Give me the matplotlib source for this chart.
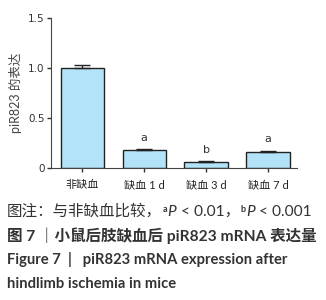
import matplotlib
matplotlib.use("Agg")
import matplotlib.pyplot as plt
import numpy as np

plt.rcParams['font.family'] = ['Lato', 'Noto Sans CJK SC', 'DejaVu Sans']

groups = ['非缺血', '缺血 1 d', '缺血 3 d', '缺血 7 d']
means = [1.0, 0.18, 0.065, 0.165]
errs = [0.03, 0.012, 0.006, 0.01]
marks = ['', 'a', 'b', 'a']
yticks = [0, 0.5, 1.0, 1.5]
ytick_labels = ['0', '0.5', '1.0', '1.5']

fig = plt.figure(figsize=(3.26, 3.0), dpi=100)
ax = fig.add_axes([0.156, 0.44, 0.755, 0.5])

x = np.arange(len(groups))
ax.bar(x, means, width=0.7, color='#b3e3f8', edgecolor='#222222', linewidth=1.0)
ax.errorbar(x, means, yerr=[np.zeros(len(errs)), errs], fmt='none',
            ecolor='#222222', elinewidth=1.0, capsize=5.5, capthick=1.0)
for xi, m, e, t in zip(x, means, errs, marks):
    if t:
        ax.text(xi, m + e + 0.06, t, ha='center', va='bottom', fontsize=8,
                family='DejaVu Sans', color='#333333')

ax.set_xlim(-0.51, 3.47)
ax.set_ylim(0, 1.5)
ax.set_yticks(yticks)
ax.set_yticklabels(ytick_labels, family='DejaVu Sans')
ax.set_xticks(x)
ax.set_xticklabels(groups)
ax.tick_params(axis='y', labelsize=7.5, colors='#333333', length=3, width=1, pad=1.5)
ax.tick_params(axis='x', labelsize=8, colors='#333333', length=3, width=1, pad=5)
for lab in ax.get_xticklabels():
    lab.set_color('#222222')
ax.spines['top'].set_visible(False)
ax.spines['right'].set_visible(False)
ax.spines['left'].set_color('#444444')
ax.spines['bottom'].set_color('#444444')
ax.set_ylabel('piR823 的表达', fontsize=9, color='#444444', labelpad=4)

# caption, line 1 with superscripts and italic P
renderer = fig.canvas.get_renderer()
pieces = [('图注：与非缺血比较，', {}), ('a', {'fontsize': 6.5, 'y_off': 4, 'weight': 'bold'}),
          ('P', {'style': 'italic'}), (' < 0.01，', {}),
          ('b', {'fontsize': 6.5, 'y_off': 4, 'weight': 'bold'}), ('P', {'style': 'italic'}),
          (' < 0.001', {})]
xpos = 7
for txt, opt in pieces:
    t = fig.text(xpos / 326, 1 - (216 - opt.get('y_off', 0)) / 300, txt,
                 fontsize=opt.get('fontsize', 11.2), style=opt.get('style', 'normal'),
                 fontweight=opt.get('weight', 'normal'),
                 color='#333333', va='baseline', ha='left')
    xpos = t.get_window_extent(renderer).x1 + 0.5

fig.text(7 / 326, 1 - 241 / 300, '图 7 ｜小鼠后肢缺血后 piR823 mRNA 表达量', fontsize=11.2,
         fontweight='bold', color='#333333', va='baseline', ha='left')
fig.text(7 / 326, 1 - 264 / 300, 'Figure 7  |   piR823 mRNA expression after', fontsize=10.6,
         fontweight='bold', color='#333333', va='baseline', ha='left')
fig.text(7 / 326, 1 - 288 / 300, 'hindlimb ischemia in mice', fontsize=10.6,
         fontweight='bold', color='#333333', va='baseline', ha='left')

fig.savefig('out.png', dpi=100)
